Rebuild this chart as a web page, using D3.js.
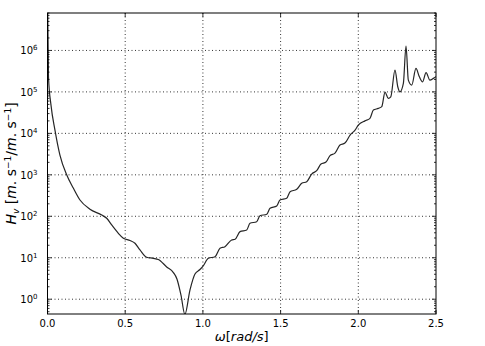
<!DOCTYPE html>
<html>
<head>
<meta charset="utf-8">
<script src="https://cdn.jsdelivr.net/npm/d3@7"></script>
<style>
  body { margin: 0; background: #fff; }
  text { font-family: "DejaVu Sans", sans-serif; }
</style>
</head>
<body>
<svg id="chart" width="485" height="346"></svg>
<script>
// frequency (rad/s)
var omega = [0.001, 0.0064, 0.0225, 0.048, 0.080, 0.124, 0.166, 0.209, 0.273, 0.349,
  0.381, 0.413, 0.456, 0.488, 0.531, 0.563, 0.595, 0.638, 0.681, 0.713,
  0.767, 0.810, 0.833, 0.859, 0.884, 0.917, 0.949, 0.981, 1.001, 1.035,
  1.078, 1.110, 1.142, 1.185, 1.207, 1.239, 1.282, 1.303, 1.346, 1.367,
  1.411, 1.432, 1.475, 1.496, 1.539, 1.561, 1.604, 1.636, 1.668, 1.700,
  1.732, 1.760, 1.792, 1.818, 1.850, 1.882, 1.914, 1.947, 1.979, 2.000,
  2.043, 2.075, 2.097, 2.129, 2.151, 2.172, 2.193, 2.209, 2.236, 2.254,
  2.268, 2.290, 2.307, 2.322, 2.344, 2.371, 2.393, 2.414, 2.436, 2.461,
  2.483, 2.500];
// transfer function H_v
var hv = [1e7, 2.3e5, 4.8e4, 1.2e4, 3.0e3, 990, 480, 247, 148, 107,
  89.5, 61.7, 38.9, 29.5, 26.1, 22.4, 15.4, 10.3, 9.7, 9.1,
  6.0, 4.4, 3.08, 1.25, 0.43, 1.68, 4.07, 5.2, 6.3, 9.7,
  10.6, 16.9, 18.5, 26.8, 27.9, 42.6, 46.8, 67.8, 74.1, 103,
  112, 156, 177, 247, 272, 392, 448, 624, 682, 1045,
  1256, 1820, 2030, 2915, 3350, 5220, 5830, 9100, 1.2e4, 1.58e4,
  2.0e4, 2.3e4, 3.64e4, 4.0e4, 4.4e4, 9.9e4, 7.0e4, 7.6e4, 3.35e5, 1.33e5,
  1.0e5, 1.6e5, 1.27e6, 1.92e5, 1.46e5, 3.68e5, 2.31e5, 1.75e5, 2.92e5, 1.92e5,
  2.12e5, 2.34e5];
var xTicks = [0.0, 0.5, 1.0, 1.5, 2.0, 2.5];
var yTicks = [1e0, 1e1, 1e2, 1e3, 1e4, 1e5, 1e6];
var yDomain = [0.44, 8e6];

(function () {
var pl = 47.5, pr = 436, pt = 13, pb = 314;
var svg = d3.select("#chart");

var x = d3.scaleLinear().domain([0, 2.5]).range([pl, pr]);
var y = d3.scaleLog().domain(yDomain).range([pb, pt]);

// grid
var grid = svg.append("g").attr("stroke", "#000").attr("stroke-width", 0.8)
  .attr("stroke-dasharray", "1,2.5");
grid.selectAll(".gx").data(xTicks.slice(1, -1)).enter().append("line")
  .attr("x1", d => x(d)).attr("x2", d => x(d)).attr("y1", pt).attr("y2", pb);
grid.selectAll(".gy").data(yTicks).enter().append("line")
  .attr("x1", pl).attr("x2", pr).attr("y1", d => y(d)).attr("y2", d => y(d));

// curve
svg.append("clipPath").attr("id", "clip").append("rect")
  .attr("x", pl).attr("y", pt).attr("width", pr - pl).attr("height", pb - pt);
var pts = omega.map((w, i) => [w, hv[i]]);
var line = d3.line().x(d => x(d[0])).y(d => y(d[1])).curve(d3.curveMonotoneX);
svg.append("path").datum(pts).attr("d", line).attr("clip-path", "url(#clip)")
  .attr("fill", "none").attr("stroke", "#262626").attr("stroke-width", 1.2);

// ticks (inward) and minor log ticks
var minor = [];
for (var e = -1; e <= 6; e++) for (var m = 2; m <= 9; m++) {
  var v = m * Math.pow(10, e);
  if (v >= yDomain[0] && v <= yDomain[1]) minor.push(v);
}
var tk = svg.append("g").attr("stroke", "#000").attr("stroke-width", 0.8);
xTicks.forEach(function(t) {
  tk.append("line").attr("x1", x(t)).attr("x2", x(t)).attr("y1", pb).attr("y2", pb - 4);
  tk.append("line").attr("x1", x(t)).attr("x2", x(t)).attr("y1", pt).attr("y2", pt + 4);
});
yTicks.forEach(function(t) {
  tk.append("line").attr("x1", pl).attr("x2", pl + 4).attr("y1", y(t)).attr("y2", y(t));
  tk.append("line").attr("x1", pr).attr("x2", pr - 4).attr("y1", y(t)).attr("y2", y(t));
});
minor.forEach(function(t) {
  tk.append("line").attr("x1", pl).attr("x2", pl + 2).attr("y1", y(t)).attr("y2", y(t));
  tk.append("line").attr("x1", pr).attr("x2", pr - 2).attr("y1", y(t)).attr("y2", y(t));
});

// frame
svg.append("rect").attr("x", pl).attr("y", pt).attr("width", pr - pl)
  .attr("height", pb - pt).attr("fill", "none").attr("stroke", "#000").attr("stroke-width", 1);

// tick labels
svg.selectAll(".xl").data(xTicks).enter().append("text")
  .attr("x", d => x(d)).attr("y", pb + 13).attr("text-anchor", "middle")
  .attr("font-size", 10).text(d => d.toFixed(1));
yTicks.forEach(function(t) {
  var ex = Math.round(Math.log10(t));
  var g = svg.append("text").attr("x", pl - 10).attr("y", y(t) + 4)
    .attr("text-anchor", "end").attr("font-size", 10);
  g.append("tspan").text("10");
  g.append("tspan").attr("font-size", 7).attr("dy", -4).text(String(ex));
});

// axis labels
var xl = svg.append("text").attr("x", (pl + pr) / 2).attr("y", 341)
  .attr("text-anchor", "middle").attr("font-family", "DejaVu Serif").attr("font-size", 13);
xl.append("tspan").attr("font-style", "italic").text("ω");
xl.append("tspan").text("[");
xl.append("tspan").attr("font-style", "italic").text("rad/s");
xl.append("tspan").text("]");

var yl = svg.append("text").attr("transform", "translate(16," + ((pt + pb) / 2) + ") rotate(-90)")
  .attr("text-anchor", "middle").attr("font-family", "DejaVu Serif").attr("font-size", 14);
yl.append("tspan").attr("font-style", "italic").text("H");
yl.append("tspan").attr("font-style", "italic").attr("font-size", 9).attr("dy", 3).text("v");
yl.append("tspan").attr("dy", -3).text(" [");
yl.append("tspan").attr("font-style", "italic").text("m");
yl.append("tspan").text(". s");
yl.append("tspan").attr("font-size", 9).attr("dy", -5).text("−1");
yl.append("tspan").attr("dy", 5).text("/");
yl.append("tspan").attr("font-style", "italic").text("m");
yl.append("tspan").text(". s");
yl.append("tspan").attr("font-size", 9).attr("dy", -5).text("−1");
yl.append("tspan").attr("dy", 5).text("]");
})();
</script>
</body>
</html>
